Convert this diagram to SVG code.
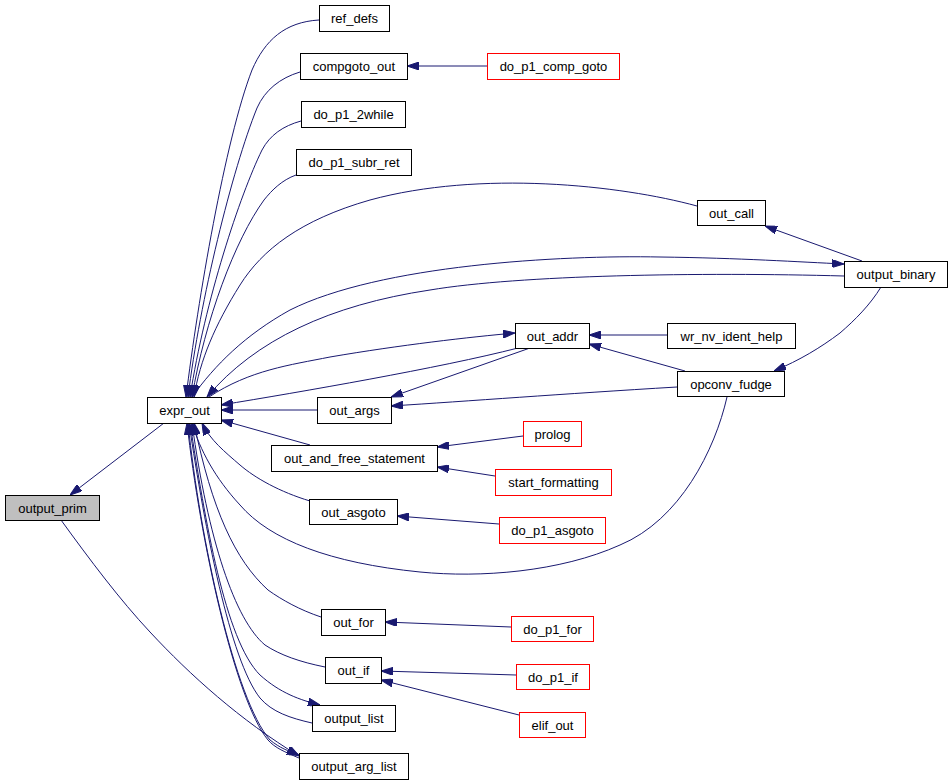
<svg xmlns="http://www.w3.org/2000/svg" width="951" height="782" viewBox="0 0 951 782">
<style>
.n rect{fill:#fff;stroke:#000;stroke-width:1}
.n.r rect{stroke:#ff0000}
.n.g rect{fill:#bfbfbf}
.n text{font-family:"Liberation Sans",Arial,sans-serif;font-size:13px;fill:#000;text-anchor:middle}
#edges path{fill:none;stroke:#191970;stroke-width:1}
#edges path.a{marker-end:url(#ah)}
</style>
<defs>
<marker id="ah" viewBox="0 0 12 8" refX="12" refY="4" markerWidth="12" markerHeight="8" markerUnits="userSpaceOnUse" orient="auto">
<path d="M0,0 L12,4 L0,8 z" fill="#191970" stroke="#191970"/>
</marker>
</defs>
<rect width="951" height="782" fill="#fff"/>
<g id="edges">
<path class="a" d="M319,20 C285,22 265,40 252,70 C225,140 198,300 186,397"/>
<path class="a" d="M300,72 C280,78 265,90 257,108 C232,170 200,300 188,397"/>
<path class="a" d="M487,66 L407,66"/>
<path class="a" d="M301,121 C283,126 270,135 262,150 C240,195 205,300 190,397"/>
<path class="a" d="M296,175 C282,180 272,190 264,200 C235,240 205,320 192,397"/>
<path class="a" d="M697,206 C620,185 480,170 370,200 C300,220 262,250 240,285 C215,325 200,360 194,397"/>
<path class="a" d="M192,397 C215,365 245,335 290,310 C380,265 560,255 660,257 C740,258 800,262 844,264"/>
<path class="a" d="M844,276 C700,272 520,275 430,290 C330,305 255,340 207,397"/>
<path class="a" d="M209,397 C250,370 290,365 330,357 C400,345 470,337 515,333"/>
<path class="a" d="M518,348 C440,368 300,392 221,405"/>
<path class="a" d="M530,348 L391,397"/>
<path class="a" d="M317,410 L221,410"/>
<path class="a" d="M677,387 C560,394 470,401 391,406"/>
<path class="a" d="M667,335 L589,335"/>
<path class="a" d="M685,371 L589,344"/>
<path class="a" d="M862,261 L765,226"/>
<path class="a" d="M881,287 C870,305 855,320 840,333 C820,348 800,360 774,371"/>
<path class="a" d="M727,397 C715,450 680,520 620,545 C560,572 480,578 420,572 C330,563 270,540 240,505 C215,478 200,450 192,423"/>
<path class="a" d="M310,445 L221,420"/>
<path class="a" d="M523,436 L437,447"/>
<path class="a" d="M495,476 L437,467"/>
<path class="a" d="M310,501 C280,492 255,478 240,465 C225,452 210,440 202,423"/>
<path class="a" d="M499,524 L397,516"/>
<path class="a" d="M321,617 C300,610 282,600 268,590 C235,560 212,510 194,423"/>
<path class="a" d="M511,627 L385,622"/>
<path class="a" d="M325,667 C300,662 280,655 265,645 C235,620 208,540 192,423"/>
<path class="a" d="M516,675 L381,671"/>
<path class="a" d="M519,715 L381,680"/>
<path class="a" d="M190,423 C205,520 225,640 260,675 C280,693 300,700 320,705"/>
<path class="a" d="M312,723 C290,718 272,712 260,698 C230,660 205,530 189,423"/>
<path class="a" d="M188,423 C200,540 235,700 270,740 C280,748 288,751 299,755"/>
<path class="a" d="M299,758 C285,752 275,748 268,740 C235,700 200,540 187,423"/>
<path class="a" d="M164,423 L70,495"/>
<path class="a" d="M61,520 C90,560 120,600 150,632 C190,675 240,720 299,756"/>
</g>
<g id="ref_defs" class="n"><rect x="319.5" y="5.5" width="70" height="26"/><text x="354.5" y="23">ref_defs</text></g>
<g id="compgoto_out" class="n"><rect x="300.5" y="53.5" width="107" height="26"/><text x="354" y="71">compgoto_out</text></g>
<g id="do_p1_comp_goto" class="n r"><rect x="487.5" y="53.5" width="132" height="26"/><text x="553.5" y="71">do_p1_comp_goto</text></g>
<g id="do_p1_2while" class="n"><rect x="301.5" y="101.5" width="104" height="26"/><text x="353.5" y="119">do_p1_2while</text></g>
<g id="do_p1_subr_ret" class="n"><rect x="296.5" y="149.5" width="115" height="26"/><text x="354" y="167">do_p1_subr_ret</text></g>
<g id="out_call" class="n"><rect x="697.5" y="200.5" width="68" height="25"/><text x="731.5" y="217.5">out_call</text></g>
<g id="output_binary" class="n"><rect x="844.5" y="261.5" width="103" height="26"/><text x="896" y="279">output_binary</text></g>
<g id="out_addr" class="n"><rect x="515.5" y="323.5" width="74" height="25"/><text x="552.5" y="340.5">out_addr</text></g>
<g id="wr_nv_ident_help" class="n"><rect x="667.5" y="323.5" width="128" height="25"/><text x="731.5" y="340.5">wr_nv_ident_help</text></g>
<g id="opconv_fudge" class="n"><rect x="677.5" y="371.5" width="107" height="25"/><text x="731" y="388.5">opconv_fudge</text></g>
<g id="prolog" class="n r"><rect x="523.5" y="421.5" width="58" height="25"/><text x="552.5" y="438.5">prolog</text></g>
<g id="expr_out" class="n"><rect x="147.5" y="397.5" width="74" height="26"/><text x="184.5" y="415">expr_out</text></g>
<g id="out_args" class="n"><rect x="317.5" y="397.5" width="74" height="26"/><text x="354.5" y="415">out_args</text></g>
<g id="out_and_free_statement" class="n"><rect x="271.5" y="445.5" width="166" height="26"/><text x="354.5" y="463">out_and_free_statement</text></g>
<g id="start_formatting" class="n r"><rect x="495.5" y="469.5" width="116" height="26"/><text x="553.5" y="487">start_formatting</text></g>
<g id="out_asgoto" class="n"><rect x="309.5" y="499.5" width="88" height="25"/><text x="353.5" y="516.5">out_asgoto</text></g>
<g id="do_p1_asgoto" class="n r"><rect x="499.5" y="517.5" width="106" height="26"/><text x="552.5" y="535">do_p1_asgoto</text></g>
<g id="output_prim" class="n g"><rect x="5.5" y="495.5" width="94" height="25"/><text x="52.5" y="512.5">output_prim</text></g>
<g id="out_for" class="n"><rect x="321.5" y="609.5" width="64" height="26"/><text x="353.5" y="627">out_for</text></g>
<g id="do_p1_for" class="n r"><rect x="511.5" y="616.5" width="82" height="25"/><text x="552.5" y="633.5">do_p1_for</text></g>
<g id="out_if" class="n"><rect x="325.5" y="657.5" width="56" height="26"/><text x="353.5" y="675">out_if</text></g>
<g id="do_p1_if" class="n r"><rect x="516.5" y="664.5" width="73" height="25"/><text x="553" y="681.5">do_p1_if</text></g>
<g id="elif_out" class="n r"><rect x="519.5" y="712.5" width="66" height="25"/><text x="552.5" y="729.5">elif_out</text></g>
<g id="output_list" class="n"><rect x="312.5" y="705.5" width="83" height="26"/><text x="354" y="723">output_list</text></g>
<g id="output_arg_list" class="n"><rect x="299.5" y="753.5" width="109" height="26"/><text x="354" y="771">output_arg_list</text></g>
</svg>
